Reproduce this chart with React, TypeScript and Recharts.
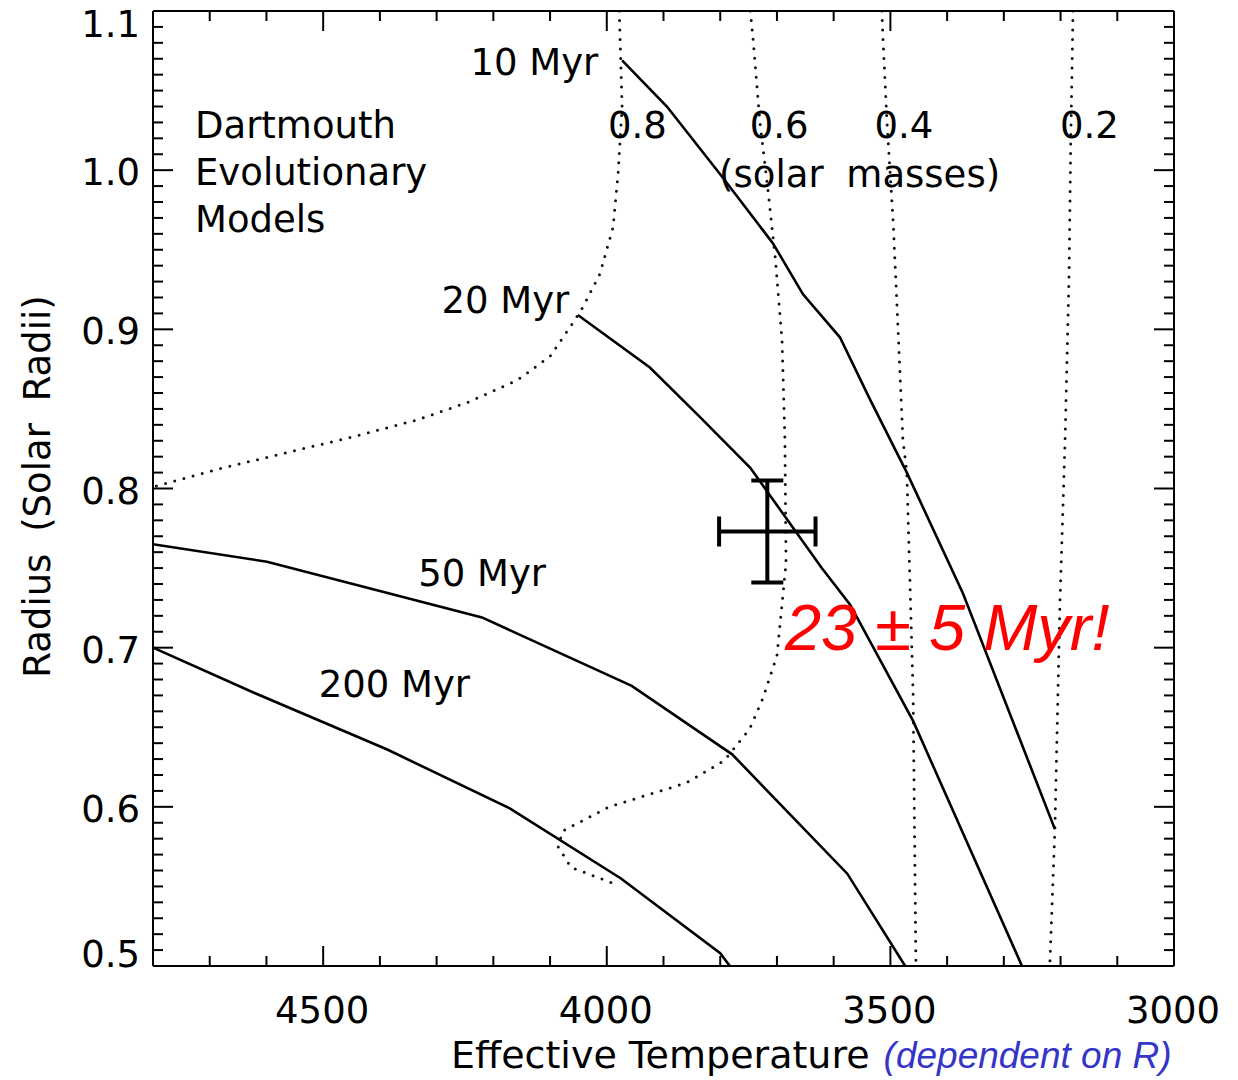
import React from 'react';
import { ComposedChart, Line, Scatter, XAxis, YAxis, ErrorBar, ReferenceDot } from 'recharts';

const FONT = '"DejaVu Sans", sans-serif';
const HELV = '"Liberation Sans", Arial, sans-serif';

// Isochrones (Teff in K, radius in solar radii)
const iso10Teff = [3973, 3894, 3797, 3707, 3654, 3589, 3536, 3471, 3372, 3210];
const iso10Rad = [1.069, 1.040, 0.996, 0.954, 0.922, 0.895, 0.856, 0.810, 0.734, 0.586];
const iso20Teff = [4051, 3924, 3836, 3747, 3621, 3571, 3460, 3268];
const iso20Rad = [0.909, 0.876, 0.845, 0.813, 0.750, 0.727, 0.654, 0.500];
const iso50Teff = [4800, 4599, 4220, 3956, 3779, 3576, 3474];
const iso50Rad = [0.765, 0.754, 0.719, 0.676, 0.633, 0.558, 0.500];
const iso200Teff = [4800, 4624, 4387, 4171, 3975, 3800, 3783];
const iso200Rad = [0.700, 0.672, 0.636, 0.599, 0.555, 0.508, 0.500];

// Mass tracks (dotted)
const m08Teff = [3978, 3973, 3980, 3989, 4012, 4042, 4060, 4100, 4158, 4246, 4335, 4453, 4571, 4687, 4800];
const m08Rad = [1.100, 1.040, 0.998, 0.964, 0.935, 0.914, 0.904, 0.883, 0.868, 0.854, 0.843, 0.832, 0.822, 0.812, 0.801];
const m06Teff = [3747, 3742, 3730, 3716, 3703, 3691, 3686, 3684, 3700, 3725, 3748, 3793, 3860, 3996, 4077, 4086, 4063, 3989];
const m06Rad = [1.100, 1.082, 1.030, 0.988, 0.945, 0.893, 0.831, 0.753, 0.695, 0.668, 0.649, 0.629, 0.615, 0.600, 0.585, 0.575, 0.562, 0.552];
const m04Teff = [3515, 3513, 3506, 3495, 3487, 3478, 3471, 3460, 3455];
const m04Rad = [1.100, 1.082, 1.030, 0.967, 0.904, 0.831, 0.810, 0.672, 0.500];
const m02Teff = [3178, 3182, 3185, 3192, 3201, 3210, 3219];
const m02Rad = [1.100, 1.019, 0.935, 0.831, 0.729, 0.586, 0.500];

// Measured star
const starTeff = 3717;
const starRad = 0.773;
const starTeffErr = 85;
const starRadErr = 0.032;

// Annotations
const ageLabels = ['10 Myr', '20 Myr', '50 Myr', '200 Myr'];
const ageLabelTeff = [4015, 4066, 4107, 4241];
const ageLabelRad = [1.060, 0.910, 0.739, 0.669];
const massLabels = ['0.8', '0.6', '0.4', '0.2'];
const massLabelTeff = [3998, 3748, 3528, 3201];
const massLabelRad = 1.020;
const massUnitTeff = 3802;
const massUnitRad = 0.9894;
const modelLines = ['Dartmouth', 'Evolutionary', 'Models'];
const modelTeff = 4726;
const modelRad = [1.020, 0.9907, 0.9611];
const ageResult = '23 \u00b1 5 Myr!';
const ageResultTeff = 3686;
const ageResultRad = 0.6985;

// Axis ticks
const xMajor = [3000, 3500, 4000, 4500];
const xTicks: number[] = [];
for (let v = 3000; v <= 4800; v += 100) xTicks.push(v);
const yMajorLabels = ['0.5', '0.6', '0.7', '0.8', '0.9', '1.0', '1.1'];
const yTicks: number[] = [];
for (let k = 50; k <= 110; k++) yTicks.push(k / 100);

const pts = (t: number[], r: number[]) => t.map((v, i) => ({ t: v, r: r[i] }));

const isochrones = [
  pts(iso10Teff, iso10Rad),
  pts(iso20Teff, iso20Rad),
  pts(iso50Teff, iso50Rad),
  pts(iso200Teff, iso200Rad),
];
const massTracks = [
  pts(m08Teff, m08Rad),
  pts(m06Teff, m06Rad),
  pts(m04Teff, m04Rad),
  pts(m02Teff, m02Rad),
];
const starData = [{ t: starTeff, r: starRad, ex: starTeffErr, ey: starRadErr }];

const MAJ = 20;
const MIN = 10;

const BottomTick = (p: any) => {
  const v = p.payload.value;
  const major = xMajor.includes(v);
  return (
    <g>
      <line x1={p.x} x2={p.x} y1={p.y} y2={p.y - (major ? MAJ : MIN)} stroke="#000" strokeWidth={2} />
      {major && (
        <text x={p.x - 1} y={p.y + 57} textAnchor="middle" fontFamily={FONT} fontSize={37} fill="#000">
          {v}
        </text>
      )}
    </g>
  );
};

const TopTick = (p: any) => {
  const v = p.payload.value;
  const major = xMajor.includes(v);
  return <line x1={p.x} x2={p.x} y1={p.y} y2={p.y + (major ? MAJ : MIN)} stroke="#000" strokeWidth={2} />;
};

const LeftTick = (p: any) => {
  const v = p.payload.value;
  const k = Math.round(v * 100);
  const major = k % 10 === 0;
  let dy = 15;
  if (k === 110) dy = 26;
  if (k === 50) dy = 1;
  const label = yMajorLabels[(k - 50) / 10];
  return (
    <g>
      <line x1={p.x} x2={p.x + (major ? MAJ : MIN)} y1={p.y} y2={p.y} stroke="#000" strokeWidth={2} />
      {major && (
        <text x={p.x - 13} y={p.y + dy} textAnchor="end" fontFamily={FONT} fontSize={37} fill="#000">
          {label}
        </text>
      )}
    </g>
  );
};

const RightTick = (p: any) => {
  const v = p.payload.value;
  const k = Math.round(v * 100);
  const major = k % 10 === 0;
  return <line x1={p.x} x2={p.x - (major ? MAJ : MIN)} y1={p.y} y2={p.y} stroke="#000" strokeWidth={2} />;
};

const XTitle = (p: any) => {
  const vb = p.viewBox || { x: 153, y: 966, width: 1021, height: 114 };
  return (
    <text x={vb.x + 298} y={vb.y + 102} fontSize={38} fontFamily={FONT} fill="#000">
      <tspan>Effective Temperature</tspan>
      <tspan dx={14} fill="#3535c8" fontFamily={HELV} fontStyle="italic" fontSize={37}>(dependent on R)</tspan>
    </text>
  );
};

const YTitle = (p: any) => {
  const vb = p.viewBox || { x: 0, y: 11, width: 153, height: 955 };
  const cx = 50;
  const cy = vb.y + vb.height / 2 - 2;
  return (
    <text x={cx} y={cy} transform={`rotate(-90 ${cx} ${cy})`} textAnchor="middle" fontSize={37} fontFamily={FONT} fill="#000" wordSpacing={10}>
      Radius (Solar Radii)
    </text>
  );
};

const textShape = (txt: string, anchor: string, extra: any = {}) => (p: any) => (
  <text x={p.cx} y={p.cy} textAnchor={anchor} fontFamily={FONT} fontSize={37} fill="#000" {...extra}>
    {txt}
  </text>
);

const noShape = () => <g />;

export default function App() {
  return (
    <div style={{ margin: '-8px 0 0 -8px', width: 1238, height: 1080 }}>
      <ComposedChart width={1238} height={1080} margin={{ top: 10, right: 63, bottom: 0, left: 0 }}>
        <XAxis
          xAxisId="b"
          type="number"
          dataKey="t"
          domain={[3000, 4800]}
          reversed
          allowDataOverflow
          ticks={xTicks}
          interval={0}
          tickLine={false}
          tickSize={0}
          tickMargin={0}
          tick={BottomTick}
          axisLine={{ stroke: '#000', strokeWidth: 2 }}
          height={114}
          orientation="bottom"
          label={{ content: XTitle }}
        />
        <XAxis
          xAxisId="t"
          type="number"
          dataKey="t"
          domain={[3000, 4800]}
          reversed
          allowDataOverflow
          ticks={xTicks}
          interval={0}
          tickLine={false}
          tickSize={0}
          tickMargin={0}
          tick={TopTick}
          axisLine={{ stroke: '#000', strokeWidth: 2 }}
          height={1}
          orientation="top"
        />
        <YAxis
          yAxisId="l"
          type="number"
          dataKey="r"
          domain={[0.5, 1.1]}
          allowDataOverflow
          ticks={yTicks}
          interval={0}
          tickLine={false}
          tickSize={0}
          tickMargin={0}
          tick={LeftTick}
          axisLine={{ stroke: '#000', strokeWidth: 2 }}
          width={153}
          orientation="left"
          label={{ content: YTitle }}
        />
        <YAxis
          yAxisId="r"
          type="number"
          dataKey="r"
          domain={[0.5, 1.1]}
          allowDataOverflow
          ticks={yTicks}
          interval={0}
          tickLine={false}
          tickSize={0}
          tickMargin={0}
          tick={RightTick}
          axisLine={{ stroke: '#000', strokeWidth: 2 }}
          width={1}
          orientation="right"
        />

        {massTracks.map((d, i) => (
          <Line
            key={'m' + i}
            xAxisId="b"
            yAxisId="l"
            data={d}
            dataKey="r"
            type="linear"
            dot={false}
            activeDot={false}
            stroke="#111"
            strokeWidth={3}
            strokeDasharray="0 9.5"
            strokeLinecap="round"
            isAnimationActive={false}
          />
        ))}
        {isochrones.map((d, i) => (
          <Line
            key={'i' + i}
            xAxisId="b"
            yAxisId="l"
            data={d}
            dataKey="r"
            type="linear"
            dot={false}
            activeDot={false}
            stroke="#000"
            strokeWidth={2.6}
            isAnimationActive={false}
          />
        ))}

        <Scatter xAxisId="b" yAxisId="l" data={starData} dataKey="r" shape={noShape} isAnimationActive={false}>
          <ErrorBar dataKey="ex" direction="x" width={15} stroke="#000" strokeWidth={4} />
          <ErrorBar dataKey="ey" direction="y" width={16} stroke="#000" strokeWidth={4} />
        </Scatter>

        {ageLabels.map((s, i) => (
          <ReferenceDot key={'al' + i} xAxisId="b" yAxisId="l" x={ageLabelTeff[i]} y={ageLabelRad[i]} r={0} shape={textShape(s, 'end')} />
        ))}
        {massLabels.map((s, i) => (
          <ReferenceDot key={'ml' + i} xAxisId="b" yAxisId="l" x={massLabelTeff[i]} y={massLabelRad} r={0} shape={textShape(s, 'start')} />
        ))}
        <ReferenceDot xAxisId="b" yAxisId="l" x={massUnitTeff} y={massUnitRad} r={0} shape={textShape('(solar masses)', 'start', { wordSpacing: 11 })} />
        {modelLines.map((s, i) => (
          <ReferenceDot key={'dl' + i} xAxisId="b" yAxisId="l" x={modelTeff} y={modelRad[i]} r={0} shape={textShape(s, 'start')} />
        ))}
        <ReferenceDot
          xAxisId="b"
          yAxisId="l"
          x={ageResultTeff}
          y={ageResultRad}
          r={0}
          shape={textShape(ageResult, 'start', { fill: '#ff0000', fontFamily: HELV, fontStyle: 'italic', fontSize: 65 })}
        />
      </ComposedChart>
    </div>
  );
}
